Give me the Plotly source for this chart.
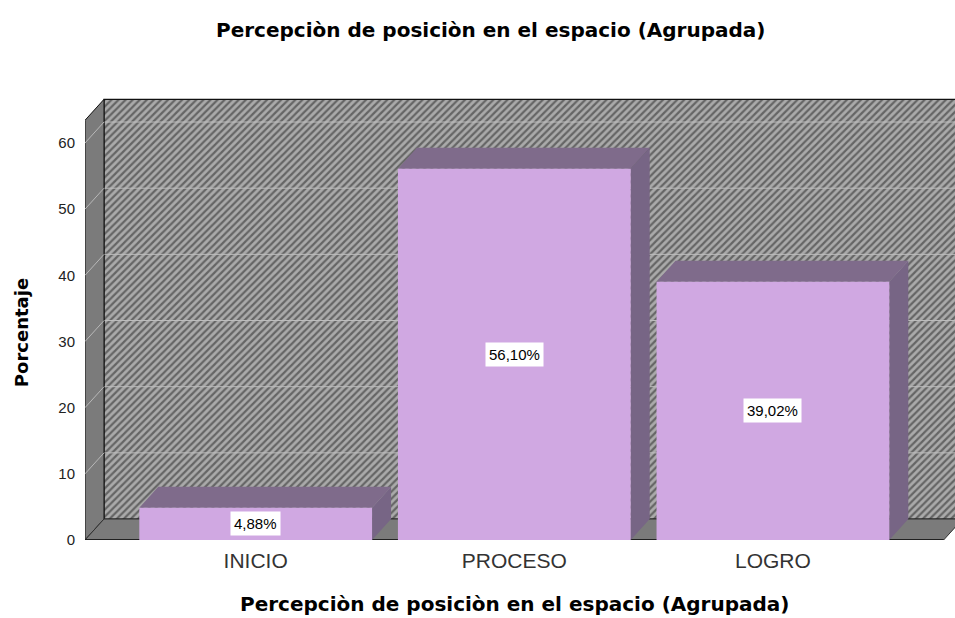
import plotly.graph_objects as go

# ---- data ----
categories = ["INICIO", "PROCESO", "LOGRO"]
percentages = [4.88, 56.10, 39.02]
y_ticks = [0, 10, 20, 30, 40, 50, 60]
title_text = "Percepciòn de posiciòn en el espacio (Agrupada)"
x_title_text = "Percepciòn de posiciòn en el espacio (Agrupada)"
y_title_text = "Porcentaje"

# ---- geometry (data units) ----
bar_w = 0.9
dx, dy = 0.0735, 3.17          # 3D depth offset
x_front_left, x_front_right = -0.66, 2.66
wall_top = 66.6
x_range = [-0.66, 2.704]
y_range = [0, 66.8]

FRONT = "#D0A8E2"
TOP = "#7F6B8B"
SIDE = "#776585"
WALL = "#7B7B7B"

fig = go.Figure()

def poly(xs, ys, fill, line_color=None, line_width=0, **kw):
    fig.add_trace(go.Scatter(
        x=list(xs) + [xs[0]], y=list(ys) + [ys[0]],
        mode="lines", fill="toself", fillcolor=fill,
        line=dict(color=line_color or fill, width=line_width),
        hoverinfo="skip", showlegend=False, **kw))

# back wall (hatched)
bx0, bx1 = x_front_left + dx, x_front_right + dx
fig.add_trace(go.Scatter(
    x=[bx0, bx1, bx1, bx0, bx0], y=[dy, dy, wall_top, wall_top, dy],
    mode="lines", fill="toself", fillcolor="#aaaaaa",
    fillpattern=dict(shape="/", bgcolor="#aaaaaa", fgcolor="#1f1f1f",
                     size=5, solidity=0.45),
    line=dict(color="#111111", width=1.2),
    hoverinfo="skip", showlegend=False))

# gridlines on back wall
gx, gy = [], []
for t in y_ticks[1:]:
    gx += [bx0, bx1, None]
    gy += [t + dy, t + dy, None]
fig.add_trace(go.Scatter(x=gx, y=gy, mode="lines",
                         line=dict(color="#bdbdbd", width=1),
                         hoverinfo="skip", showlegend=False))

# left wall
poly([x_front_left, bx0, bx0, x_front_left],
     [0, dy, wall_top, wall_top - dy], WALL, "#111111", 1)
# diagonals on left wall
lx, ly = [], []
for t in y_ticks[1:]:
    lx += [x_front_left, bx0, None]
    ly += [t, t + dy, None]
fig.add_trace(go.Scatter(x=lx, y=ly, mode="lines",
                         line=dict(color="#b8b8b8", width=1),
                         hoverinfo="skip", showlegend=False))
# floor
poly([x_front_left, x_front_right, x_front_right + dx, bx0],
     [0, 0, dy, dy], WALL, "#333333", 1)
fig.add_trace(go.Scatter(x=[x_front_left, x_front_right], y=[0, 0], mode="lines",
                         line=dict(color="#111111", width=1.5),
                         hoverinfo="skip", showlegend=False))

# bars
for i, v in enumerate(percentages):
    l, r = i - bar_w / 2, i + bar_w / 2
    # top face
    poly([l, r, r + dx, l + dx], [v, v, v + dy, v + dy], TOP)
    # side face
    poly([r, r + dx, r + dx, r], [0, dy, v + dy, v], SIDE)
    # front face
    poly([l, r, r, l], [0, 0, v, v], FRONT)
    fig.add_annotation(x=i, y=v / 2, xref="x", yref="y",
                       text=f"{v:.2f}".replace(".", ",") + "%",
                       showarrow=False, bgcolor="white", borderpad=3,
                       font=dict(family="Liberation Sans, Arial, sans-serif",
                                 size=15, color="black"))

# titles
fig.add_annotation(text=title_text, xref="paper", yref="paper", x=0.466, y=1,
                   xanchor="center", yanchor="middle", yshift=68, showarrow=False,
                   font=dict(family="DejaVu Sans", size=20, color="black", weight="bold"))
fig.add_annotation(text=x_title_text, xref="paper", yref="paper", x=0.494, y=0,
                   xanchor="center", yanchor="middle", yshift=-64, showarrow=False,
                   font=dict(family="DejaVu Sans", size=20, color="black", weight="bold"))
fig.add_annotation(text=y_title_text, xref="paper", yref="paper", x=0, y=0.468,
                   xanchor="center", yanchor="middle", xshift=-64, textangle=-90,
                   showarrow=False,
                   font=dict(family="DejaVu Sans", size=18, color="black", weight="bold"))

fig.update_xaxes(range=x_range, tickvals=list(range(len(categories))),
                 ticktext=categories, showgrid=False, zeroline=False, showline=False,
                 ticks="outside", ticklen=2, tickcolor="rgba(0,0,0,0)",
                 tickfont=dict(family="Liberation Sans, Arial, sans-serif",
                               size=21, color="#333333"),
                 fixedrange=True)
fig.update_yaxes(range=y_range, tickvals=y_ticks, showgrid=False, zeroline=False,
                 showline=False, ticks="outside", ticklen=6,
                 tickcolor="rgba(0,0,0,0)",
                 tickfont=dict(family="Liberation Sans, Arial, sans-serif",
                               size=15, color="#222222"),
                 fixedrange=True)

fig.update_layout(width=955, height=618,
                  margin=dict(l=85, r=0, t=98, b=78),
                  paper_bgcolor="white", plot_bgcolor="white",
                  showlegend=False)

fig.write_html("out.html", config={"displayModeBar": False},
               post_script="document.body.style.margin='0';document.body.style.overflow='hidden';")
